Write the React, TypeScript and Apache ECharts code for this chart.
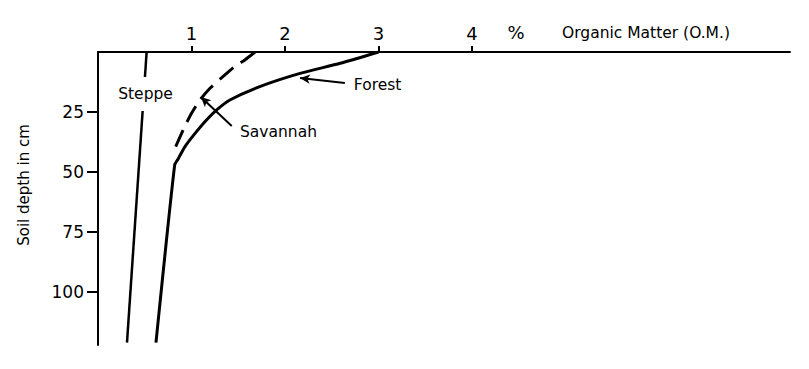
import React, { useEffect, useRef } from "react";
import * as echarts from "echarts";

// Organic matter (%) vs soil depth (cm)
const forestOM = [3.0, 2.59, 2.16, 1.73, 1.41, 1.27, 1.16, 1.04, 0.93, 0.86, 0.82, 0.62];
const forestDepth = [0, 4.7, 8.9, 14.4, 20.0, 24.1, 28.3, 33.8, 39.4, 44.3, 47, 121];
const savannahOM = [1.68, 1.57, 1.47, 1.32, 1.2, 1.09, 0.99, 0.91, 0.83];
const savannahDepth = [0, 3.3, 5.8, 10.8, 15.0, 20.0, 26.2, 32.5, 39.5];
const steppeOM = [0.52, 0.31];
const steppeDepth = [0, 121];
const xTicks = [1, 2, 3, 4];
const yTicks = [25, 50, 75, 100];

const FONT = "DejaVu Sans";

export default function App() {
  const ref = useRef<HTMLDivElement>(null);
  useEffect(() => {
    if (!ref.current) return;
    const chart = echarts.init(ref.current, null, { renderer: "svg" });
    const zip = (a: number[], b: number[]) => a.map((v, i) => [v, b[i]]);
    const labelPoint = (name: string, x: number, y: number, bg?: boolean, pad?: number[]) => ({
      name,
      coord: [x, y],
      symbol: "circle",
      symbolSize: 0,
      label: {
        show: true,
        position: "inside",
        formatter: name,
        color: "#000",
        fontFamily: FONT,
        fontSize: 15.5,
        backgroundColor: bg ? "#fff" : "transparent",
        padding: pad || 0,
      },
    });
    chart.setOption({
      animation: false,
      backgroundColor: "#fff",
      grid: { left: 98, top: 52, right: 19, bottom: 24, containLabel: false },
      xAxis: {
        type: "value",
        position: "top",
        min: 0,
        max: 7.4,
        splitLine: { show: false },
        axisLine: { show: true, lineStyle: { color: "#000", width: 2 } },
        axisTick: { show: true, length: 6, customValues: xTicks, lineStyle: { color: "#000", width: 2 } },
        axisLabel: { customValues: xTicks, margin: 10, color: "#000", fontFamily: FONT, fontSize: 18 },
      },
      yAxis: {
        type: "value",
        inverse: true,
        min: 0,
        max: 122,
        splitLine: { show: false },
        axisLine: { show: true, lineStyle: { color: "#000", width: 2 } },
        axisTick: { show: true, length: 11, customValues: yTicks, lineStyle: { color: "#000", width: 2 } },
        axisLabel: { customValues: yTicks, margin: 14, color: "#000", fontFamily: FONT, fontSize: 17 },
      },
      graphic: [
        {
          type: "text",
          x: 24,
          y: 185,
          rotation: Math.PI / 2,
          style: { text: "Soil depth in cm", fontFamily: FONT, fontSize: 15, fill: "#000", align: "center", verticalAlign: "middle" },
        },
        {
          type: "text",
          x: 516,
          y: 32,
          style: { text: "%", fontFamily: FONT, fontSize: 18, fill: "#000", align: "center", verticalAlign: "middle" },
        },
        {
          type: "text",
          x: 562,
          y: 33,
          style: { text: "Organic Matter (O.M.)", fontFamily: FONT, fontSize: 15.5, fill: "#000", align: "left", verticalAlign: "middle" },
        },
      ],
      series: [
        {
          name: "Steppe",
          type: "line",
          data: zip(steppeOM, steppeDepth),
          showSymbol: false,
          lineStyle: { color: "#000", width: 2.5 },
          z: 2,
          markPoint: { data: [labelPoint("Steppe", 0.508, 17.5, true, [9, 2, 9, 2])] },
        },
        {
          name: "Forest",
          type: "line",
          data: zip(forestOM, forestDepth),
          smooth: 0.2,
          showSymbol: false,
          lineStyle: { color: "#000", width: 3 },
          markPoint: { data: [labelPoint("Forest", 2.99, 13.7)] },
          markLine: {
            silent: true,
            symbol: ["arrow", "none"],
            symbolSize: [7, 10],
            lineStyle: { color: "#000", width: 2, type: "solid" },
            label: { show: false },
            data: [[{ coord: [2.16, 10.8] }, { coord: [2.64, 12.9] }]],
          },
        },
        {
          name: "Savannah",
          type: "line",
          data: zip(savannahOM, savannahDepth),
          smooth: 0.2,
          showSymbol: false,
          lineStyle: { color: "#000", width: 3, type: [18, 9] },
          markPoint: { data: [labelPoint("Savannah", 1.93, 33.3)] },
          markLine: {
            silent: true,
            symbol: ["arrow", "none"],
            symbolSize: [7, 10],
            lineStyle: { color: "#000", width: 2, type: "solid" },
            label: { show: false },
            data: [[{ coord: [1.1, 18.7] }, { coord: [1.43, 30.8] }]],
          },
        },
      ],
    });
    return () => chart.dispose();
  }, []);
  return <div ref={ref} style={{ width: 809, height: 369, position: "absolute", left: 0, top: 0, background: "#fff" }} />;
}
